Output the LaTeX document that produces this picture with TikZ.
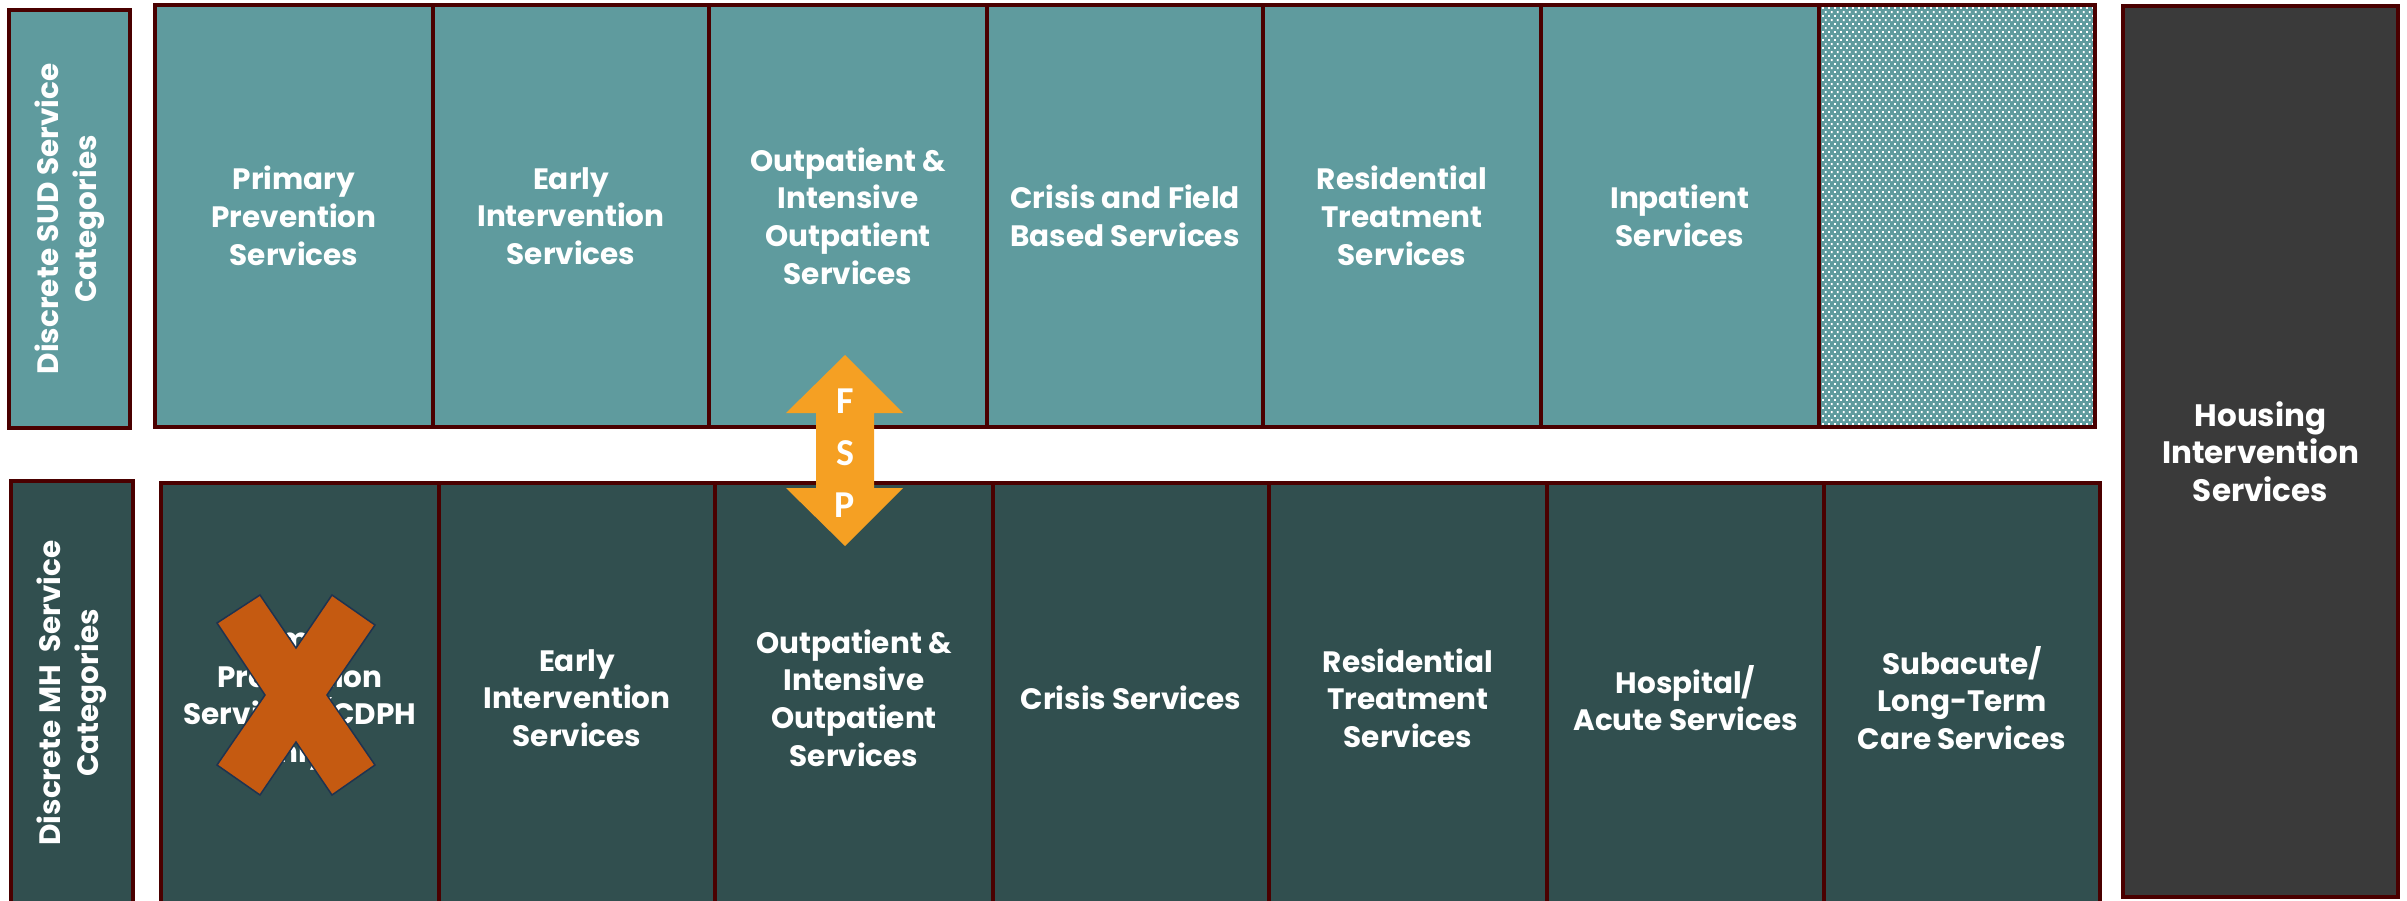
\documentclass[tikz,border=0pt]{standalone}
\usepackage{fontspec}
\setmainfont{Poppins}
\newfontfamily\fspfont{Carlito}
\usetikzlibrary{patterns}

\definecolor{sudteal}{HTML}{5F9B9E}
\definecolor{mhslate}{HTML}{314F4F}
\definecolor{housegray}{HTML}{3A3A3A}
\definecolor{edge}{HTML}{4A0000}
\definecolor{fsporange}{HTML}{F5A023}
\definecolor{xorange}{HTML}{C55A11}
\definecolor{xedge}{HTML}{1F3350}

% small staggered square dots
\pgfdeclarepatternformonly{finedots}{\pgfqpoint{0pt}{0pt}}{\pgfqpoint{6.2pt}{7.8pt}}{\pgfqpoint{6.2pt}{7.8pt}}{%
  \pgfpathrectangle{\pgfqpoint{0pt}{0pt}}{\pgfqpoint{2pt}{2pt}}%
  \pgfpathrectangle{\pgfqpoint{3.1pt}{3.9pt}}{\pgfqpoint{2pt}{2pt}}%
  \pgfusepath{fill}}

\tikzset{
  labelfont/.style={font=\bfseries\fontsize{29.5}{37.7}\selectfont},
  cell/.style={draw=edge, line width=4.8pt, rectangle, anchor=north west, outer sep=0pt,
    inner sep=0pt, text=white, align=center, labelfont},
  sud/.style={cell, fill=sudteal},
  mh/.style={cell, fill=mhslate},
  dotted cell/.style={cell, preaction={fill=sudteal},
    preaction={pattern=finedots, pattern color=white}},
  house/.style={cell, fill=housegray, font=\bfseries\fontsize{31}{37.5}\selectfont},
  sidetext/.style={rotate=90, text=white, align=center, labelfont}
}

\begin{document}
\begin{tikzpicture}[x=1pt, y=-1pt]
\useasboundingbox (0,0) rectangle (2407,901);

% row labels
\node[cell, fill=sudteal, minimum width=121pt, minimum height=418pt] (sudlab) at (9,10) {};
\node[sidetext] (sudtext) at (sudlab.center) {Discrete SUD Service\\Categories};
\node[cell, fill=mhslate, minimum width=122pt, minimum height=440pt] (mhlab) at (11,481) {};
\node[sidetext] (mhtext) at ([yshift=8pt]mhlab.center) {Discrete MH\ \ Service\\Categories};

% SUD service row
\node[sud, minimum width=278pt, minimum height=422pt] (s1) at (155,5) {Primary\\Prevention\\Services};
\node[sud, minimum width=276pt, minimum height=422pt] (s2) at (433,5) {Early\\Intervention\\Services};
\node[sud, minimum width=278pt, minimum height=422pt] (s3) at (709,5) {Outpatient \&\\Intensive\\Outpatient\\Services};
\node[sud, minimum width=276pt, minimum height=422pt] (s4) at (987,5) {Crisis and Field\\Based Services};
\node[sud, minimum width=278pt, minimum height=422pt] (s5) at (1263,5) {Residential\\Treatment\\Services};
\node[sud, minimum width=278pt, minimum height=422pt] (s6) at (1541,5) {Inpatient\\Services};
\node[dotted cell, minimum width=276pt, minimum height=422pt] (s7) at (1819,5) {};

% MH service row
\node[mh, minimum width=278pt, minimum height=430pt] (m1) at (161,483) {Primary\\Prevention\\Services (CDPH\\only)};
\node[mh, minimum width=276pt, minimum height=430pt] (m2) at (439,483) {Early\\Intervention\\Services};
\node[mh, minimum width=278pt, minimum height=430pt] (m3) at (715,483) {Outpatient \&\\Intensive\\Outpatient\\Services};
\node[mh, minimum width=276pt, minimum height=430pt] (m4) at (993,483) {Crisis Services};
\node[mh, minimum width=278pt, minimum height=430pt] (m5) at (1269,483) {Residential\\Treatment\\Services};
\node[mh, minimum width=277pt, minimum height=430pt] (m6) at (1547,483) {Hospital/\\Acute Services};
\node[mh, minimum width=276pt, minimum height=430pt] (m7) at (1824,483) {Subacute/\\Long-Term\\Care Services};

% housing column
\node[house, minimum width=275pt, minimum height=891pt] (house) at (2123,6) {Housing\\Intervention\\Services};

% cross over the CDPH-only prevention cell
\fill[xorange, draw=xedge, line width=1.5pt]
  (217,623) -- (260,595) -- (296,648) -- (332,595) -- (375,625) -- (327,695)
  -- (375,765) -- (332,795) -- (296,742) -- (260,795) -- (217,765) -- (265,695) -- cycle;

% FSP double arrow between the two outpatient cells
\coordinate (fsptop) at (845,355);
\coordinate (fspbot) at (845,546);
\fill[fsporange]
  (fsptop) -- (903,413) -- (874,413) -- (874,488) -- (903,488) -- (fspbot)
  -- (786,488) -- (816,488) -- (816,413) -- (786,413) -- cycle;
\node[text=white, font=\fspfont\bfseries\fontsize{38}{52}\selectfont, align=center, inner sep=0pt]
  (fsp) at (845,453) {F\\S\\P};
\end{tikzpicture}
\end{document}
